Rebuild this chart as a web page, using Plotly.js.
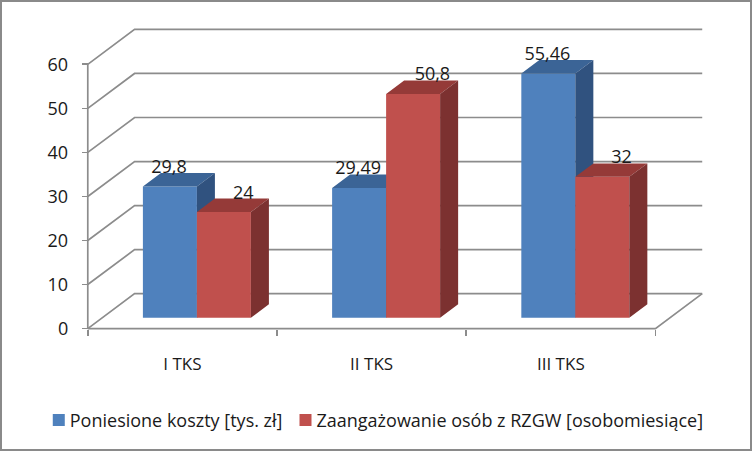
<!DOCTYPE html>
<html><head><meta charset="utf-8">
<script src="https://cdn.plot.ly/plotly-3.0.1.min.js"></script>
<style>html,body{margin:0;padding:0;background:#fff}
#wrap{position:relative;width:752px;height:451px;overflow:hidden}
#frame{position:absolute;left:0;top:0;right:0;bottom:0;border:2px solid #8a8a8a;box-sizing:border-box;z-index:10;pointer-events:none}</style>
</head><body><div id="wrap"><div id="c"></div><div id="frame"></div></div>
<script>
const categories = ["I TKS", "II TKS", "III TKS"];
const seriesNames = ["Poniesione koszty [tys. zł]", "Zaangażowanie osób z RZGW [osobomiesiące]"];
const costs = [29.8, 29.49, 55.46];
const people = [24, 50.8, 32];
const yTicks = [0, 10, 20, 30, 40, 50, 60];
const blue = {front:"#4f81bd", top:"#3b6496", side:"#30527f"};
const red = {front:"#c0504d", top:"#953a38", side:"#7c3130"};
const gridColor = "#8c8c8c";
const font = "Open Sans, sans-serif";

// oblique projection, in axis units
const wallDX = 0.2473, wallDY = 7.925;
const barW = 0.2854, barFront = 0.31, barDepth = 0.385;
const W = 752, H = 451, x0px = 88, y0px = 329, pxX = 189.2, pxY = 4.417;
const padX = 0.02, padY = 1;
const xMax = 3 + wallDX + padX, yMax = 60 + wallDY + padY;
const xRange = [-padX, xMax], yRange = [-padY, yMax];
const mL = x0px - padX*pxX, mB = H - (y0px + padY*pxY);
const mR = W - (x0px + xMax*pxX), mT = y0px - yMax*pxY;
const plotH = H - mT - mB, plotW = W - mL - mR;

const fx = barFront*wallDX, fy = barFront*wallDY;
const dx = barDepth*wallDX, dy = barDepth*wallDY;

function series(vals, idx, c, xa, ya, name) {
  const left = i => i + 0.5 - barW + idx*barW + fx;
  const bars = {type:"bar", name, x: vals.map((v,i)=>left(i)+barW/2), y: vals, base: vals.map(()=>fy),
    width: barW, marker:{color:c.front, line:{width:0}}, xaxis:xa, yaxis:ya, hoverinfo:"y", cliponaxis:false};
  const topX=[], topY=[], sideX=[], sideY=[];
  vals.forEach((v,i)=>{
    const l=left(i), r=l+barW, t=fy+v;
    topX.push(l, r, r+dx, l+dx, l, null); topY.push(t, t, t+dy, t+dy, t, null);
    sideX.push(r, r+dx, r+dx, r, r, null); sideY.push(fy, fy+dy, t+dy, t, fy, null);
  });
  const face=(x,y,col)=>({type:"scatter", mode:"lines", x, y, fill:"toself", fillcolor:col,
    line:{width:0, color:col}, xaxis:xa, yaxis:ya, showlegend:false, hoverinfo:"skip"});
  return [bars, face(topX,topY,c.top), face(sideX,sideY,c.side)];
}
const label = v => String(v).replace(".", ",");
function labels(vals, idx, shift) {
  return {type:"scatter", mode:"text", x: vals.map((v,i)=>i+0.5-barW/2+idx*barW+fx+shift),
    y: vals.map(v=>fy+v+4.1), text: vals.map(label), textposition:"middle center",
    textfont:{family:font, size:18, color:"#1a1a1a"}, xaxis:"x2", yaxis:"y2", showlegend:false, hoverinfo:"skip"};
}

const line = {color:gridColor, width:1.7};
const seg = (pts) => ({type:"path", xref:"x", yref:"y", layer:"below", line,
  path: pts.map((p,i)=>(i?"L":"M")+p[0]+","+p[1]).join(" ")});
const shapes = yTicks.map(v => seg([[0,v],[wallDX,v+wallDY],[3+wallDX,v+wallDY]]));
shapes.push(seg([[0,0],[3,0],[3+wallDX,wallDY]]));
shapes.push(seg([[0,0],[0,60]]));

const data = [
  ...series(costs, 0, blue, "x", "y", seriesNames[0]),
  ...series(people, 1, red, "x2", "y2", seriesNames[1]),
  labels(costs, 0, -0.005),
  labels(people, 1, 0.102)
];
const layout = {
  width:W, height:H, margin:{l:mL, r:mR, t:mT, b:mB, pad:0},
  paper_bgcolor:"#fff", plot_bgcolor:"rgba(0,0,0,0)", barmode:"overlay",
  font:{family:font, color:"#1a1a1a"}, shapes,
  xaxis:{range:xRange, anchor:"free", position:padY*pxY/plotH, showgrid:false, zeroline:false, showline:false,
    tickmode:"array", tickvals:[0.5,1.5,2.5], ticktext:categories, ticks:"", ticklabelstandoff:23,
    tickfont:{family:font, size:17, color:"#1a1a1a"},
    minor:{tickmode:"array", tickvals:[0,1,2,3], ticks:"outside", ticklen:6, tickwidth:1.7, tickcolor:gridColor, showgrid:false}},
  yaxis:{range:yRange, anchor:"free", position:padX*pxX/plotW, showgrid:false, zeroline:false, showline:false,
    tickmode:"array", tickvals:yTicks, ticks:"outside", ticklen:6, tickwidth:1.7, tickcolor:gridColor, ticklabelstandoff:10, ticklabelshift:-1.5,
    tickfont:{family:font, size:18, color:"#1a1a1a"}},
  xaxis2:{range:xRange, overlaying:"x", anchor:"y2", visible:false},
  yaxis2:{range:yRange, overlaying:"y", anchor:"x2", visible:false},
  showlegend:true,
  legend:{orientation:"h", xref:"paper", yref:"paper", x:(30-mL)/plotW, xanchor:"left", y:-(421-(H-mB))/plotH, yanchor:"middle",
    font:{family:font, size:18, color:"#1a1a1a"}, bgcolor:"rgba(0,0,0,0)", itemclick:false, itemdoubleclick:false}
};
const shiftBy = (el, d) => {
  const m = /translate\(([-\d.]+),\s*([-\d.]+)\)/.exec(el.getAttribute("transform") || "");
  if (m) el.setAttribute("transform", "translate(" + (parseFloat(m[1]) + d) + "," + m[2] + ")");
};
Plotly.newPlot("c", data, layout, {displayModeBar:false, staticPlot:true}).then(gd => {
  // tighten the legend: swatches nearer their text, entries nearer each other
  const items = gd.querySelectorAll(".legend .traces");
  items.forEach((g, i) => {
    const sym = g.querySelector(".legendsymbols");
    if (sym) sym.setAttribute("transform", "translate(9,0)");
    if (i === 1) shiftBy(g, -11);
  });
});
</script></body></html>
